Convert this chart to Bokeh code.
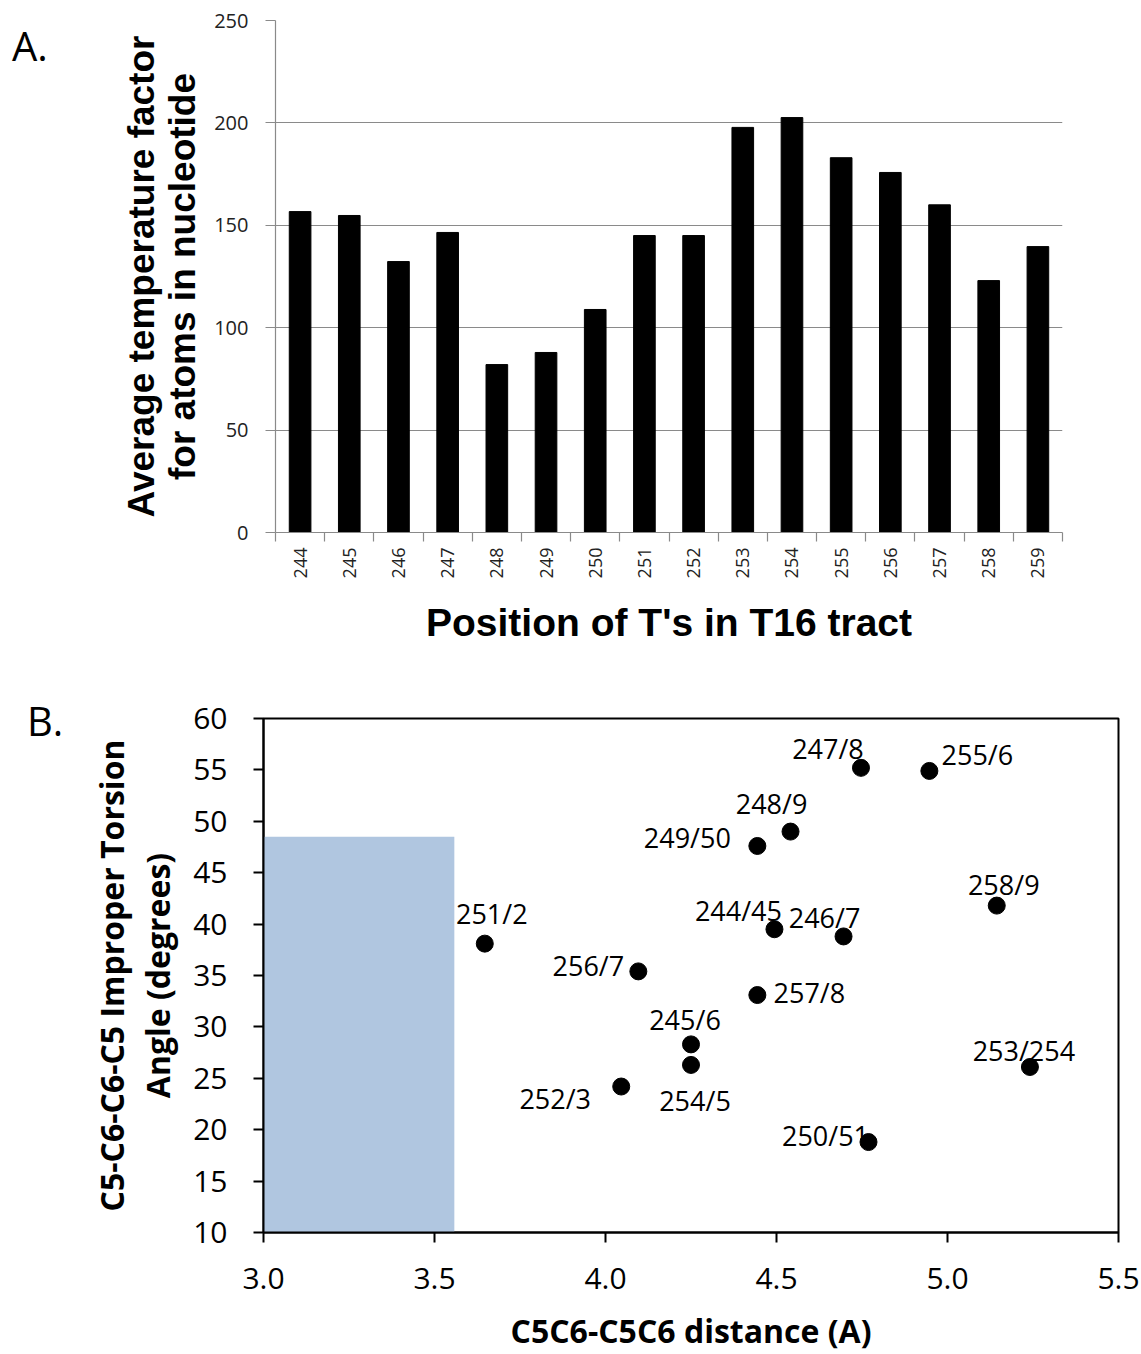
import numpy as np
from bokeh.plotting import figure
from bokeh.models import Range1d, FixedTicker, ColumnDataSource, NumeralTickFormatter, Div
from bokeh.layouts import column, row
from bokeh.embed import file_html
from bokeh.resources import INLINE
from bokeh.core.properties import value

# ---------------- Panel A data ----------------
positions = ["244", "245", "246", "247", "248", "249", "250", "251",
             "252", "253", "254", "255", "256", "257", "258", "259"]
temp_factor = [156.7, 154.8, 132.3, 146.5, 82.0, 87.9, 108.9, 145.0,
               145.0, 197.8, 202.6, 183.0, 175.8, 160.0, 123.0, 139.6]
a_yticks = [0, 50, 100, 150, 200, 250]

# ---------------- Panel B data ----------------
pair_labels = ["247/8", "255/6", "248/9", "249/50", "258/9", "251/2", "244/45",
               "246/7", "256/7", "257/8", "245/6", "254/5", "252/3", "253/254", "250/51"]
distance = [4.747, 4.947, 4.541, 4.444, 5.144, 3.647, 4.494,
            4.696, 4.096, 4.444, 4.250, 4.250, 4.046, 5.241, 4.769]
torsion = [55.2, 54.9, 49.0, 47.6, 41.8, 38.1, 39.5,
           38.8, 35.4, 33.1, 28.3, 26.3, 24.2, 26.1, 18.8]
b_xticks = [3.0, 3.5, 4.0, 4.5, 5.0, 5.5]
b_yticks = [10, 15, 20, 25, 30, 35, 40, 45, 50, 55, 60]
shaded_distance = [3.0, 3.558]
shaded_torsion = [10, 48.5]

# label placement (pixels, relative to point; style, not data)
label_dx = [-33, 48, -19, -70, 7, 7, -36, -19, -50, 52, -6, 4, -66, -6, -43]
label_dy = [-19, -16, -28, -8, -21, -30, -19, -19, -6, -3, -25, 36, 12, -16, -7]

GRAY = "#8a8a8a"
HA, HB = 665, 689
DIV_W = 60


def panel_letter(letter, pad_top, pad_left):
    return Div(text=letter, width=DIV_W, height=90, margin=(0, 0, 0, 0),
               styles={"font-family": "Open Sans", "font-size": "40px",
                       "line-height": "40px", "color": "black",
                       "padding-top": f"{pad_top}px", "padding-left": f"{pad_left}px"})


# ---------------- Figure A ----------------
n = len(positions)
centers = [i + 0.5 for i in range(n)]
bounds = [float(i) for i in range(n + 1)]

pa = figure(width=1141 - DIV_W, height=HA, x_range=Range1d(0, n), y_range=Range1d(0, 250),
            output_backend="svg", toolbar_location=None,
            min_border_left=275 - DIV_W, min_border_right=79, min_border_top=20,
            min_border_bottom=133)
pa.outline_line_color = None

src_a = ColumnDataSource(dict(x=centers, top=temp_factor))
pa.vbar(x="x", top="top", width=0.44, bottom=0, source=src_a,
        fill_color="black", line_color="black")

pa.xgrid.visible = False
pa.ygrid.ticker = FixedTicker(ticks=a_yticks)
pa.ygrid.grid_line_color = GRAY
pa.ygrid.grid_line_width = 1.2

ya = pa.yaxis[0]
ya.ticker = FixedTicker(ticks=a_yticks)
ya.axis_line_color = GRAY
ya.axis_line_width = 1.2
ya.major_tick_line_color = GRAY
ya.major_tick_out = 10
ya.major_tick_in = 0
ya.minor_tick_line_color = None
ya.major_label_text_font = "Open Sans"
ya.major_label_text_font_size = "20px"
ya.major_label_text_color = "#222222"
ya.major_label_standoff = 17
ya.axis_label = "Average temperature factor\nfor atoms in nucleotide"
ya.axis_label_text_font = "Liberation Sans"
ya.axis_label_text_font_style = "bold"
ya.axis_label_text_font_size = "37px"
ya.axis_label_text_line_height = 1.0
ya.axis_label_text_color = "black"
ya.axis_label_standoff = 8

xa = pa.xaxis[0]
xa.ticker = FixedTicker(ticks=centers, minor_ticks=bounds)
xa.major_label_overrides = {c: lab for c, lab in zip(centers, positions)}
xa.major_label_orientation = np.pi / 2
xa.axis_line_color = GRAY
xa.axis_line_width = 1.2
xa.major_tick_out = 0
xa.major_tick_in = 0
xa.minor_tick_out = 9
xa.minor_tick_in = 0
xa.minor_tick_line_color = GRAY
xa.minor_tick_line_width = 1.2
xa.major_label_text_font = "Open Sans"
xa.major_label_text_font_size = "18px"
xa.major_label_text_color = "#222222"
xa.major_label_standoff = 6
xa.axis_label = "Position of T's in T16 tract"
xa.axis_label_text_font = "Liberation Sans"
xa.axis_label_text_font_style = "bold"
xa.axis_label_text_font_size = "39px"
xa.axis_label_text_color = "black"
xa.axis_label_standoff = 20

# ---------------- Figure B ----------------
pb = figure(width=1141 - DIV_W, height=HB, x_range=Range1d(3.0, 5.5), y_range=Range1d(10, 60),
            output_backend="svg", toolbar_location=None,
            min_border_left=263 - DIV_W, min_border_right=23, min_border_top=53,
            min_border_bottom=121)
pb.outline_line_color = "black"
pb.outline_line_width = 2
pb.grid.visible = False

pb.quad(left=[shaded_distance[0]], right=[shaded_distance[1]],
        bottom=[shaded_torsion[0]], top=[shaded_torsion[1]],
        fill_color="#b0c6e0", line_color=None)

src_b = ColumnDataSource(dict(x=distance, y=torsion, label=pair_labels,
                              dx=label_dx, dy=label_dy))
pb.scatter(x="x", y="y", source=src_b, size=17, marker="circle",
           fill_color="black", line_color="black")
pb.text(x="x", y="y", text="label", x_offset="dx", y_offset="dy", source=src_b,
        text_align="center", text_baseline="middle",
        text_font=value("Open Sans"), text_font_size="27px", text_color="black")

for ax in (pb.xaxis[0], pb.yaxis[0]):
    ax.axis_line_color = "black"
    ax.axis_line_width = 2
    ax.major_tick_line_color = "black"
    ax.major_tick_line_width = 2
    ax.major_tick_out = 10
    ax.major_tick_in = 0
    ax.minor_tick_line_color = None
    ax.major_label_text_font = "Open Sans"
    ax.major_label_text_font_size = "30px"
    ax.major_label_text_color = "black"
    ax.axis_label_text_font = "Open Sans"
    ax.axis_label_text_font_style = "bold"
    ax.axis_label_text_font_size = "32px"
    ax.axis_label_text_color = "black"

xb = pb.xaxis[0]
xb.ticker = FixedTicker(ticks=b_xticks)
xb.formatter = NumeralTickFormatter(format="0.0")
xb.major_label_standoff = 25
xb.axis_label = "C5C6-C5C6 distance (A)"
xb.axis_label_standoff = 17

yb = pb.yaxis[0]
yb.ticker = FixedTicker(ticks=b_yticks)
yb.major_label_standoff = 26
yb.axis_label = "C5-C6-C6-C5 Improper Torsion\nAngle (degrees)"
yb.axis_label_text_line_height = 1.07
yb.axis_label_standoff = 11

div_a = panel_letter("A.", 26, 12)
div_b = panel_letter("B.", 36, 27)

layout = column(row(div_a, pa, spacing=0), row(div_b, pb, spacing=0), spacing=0)
open("out.html", "w").write(file_html(layout, INLINE))
